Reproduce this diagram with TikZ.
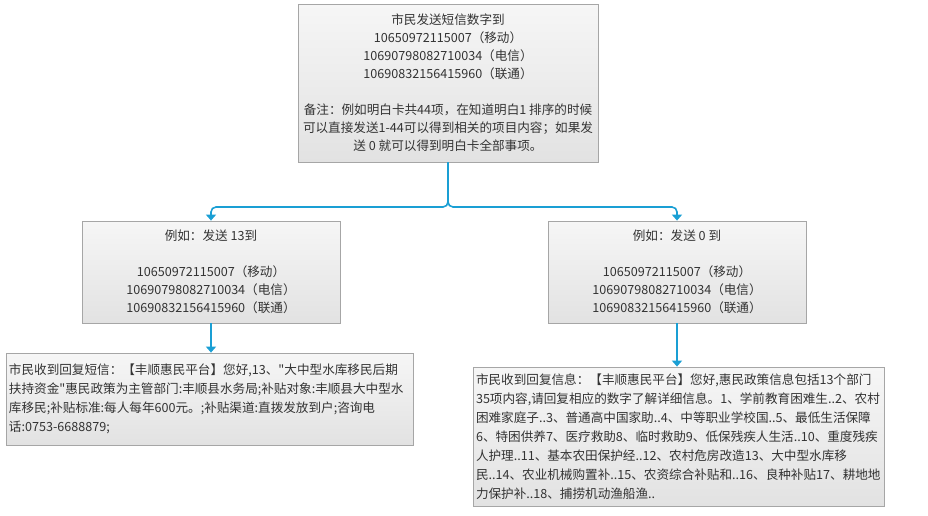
\documentclass[tikz,border=0pt]{standalone}
\usepackage{fontspec}
\newfontfamily\cjk{Noto Sans CJK SC}
\usetikzlibrary{arrows.meta}
\definecolor{linkblue}{HTML}{1A9FD4}
\definecolor{boxline}{HTML}{A6A6A6}
\definecolor{boxtop}{HTML}{F6F6F6}
\definecolor{boxbot}{HTML}{E2E2E2}
\tikzset{
    box/.style={draw=boxline, line width=0.8pt, top color=boxtop, bottom color=boxbot,
        inner sep=3pt, align=center, font=\cjk\fontsize{12.6}{18}\selectfont, text=black!80},
    infobox/.style={box, align=left, font=\cjk\fontsize{12.6}{19}\selectfont},
    link/.style={draw=linkblue, line width=1.6pt, rounded corners=5pt,
        -{Triangle[width=10pt,length=6pt]}}
}
\begin{document}
\begin{tikzpicture}[x=1pt, y=-1pt]
    \useasboundingbox (0,0) rectangle (928,515);
    % 短信入口
    \node[box, minimum width=300pt, minimum height=158pt] (send) at (448,83)
        {市民发送短信数字到\\
         10650972115007（移动）\\
         10690798082710034（电信）\\
         10690832156415960（联通）\\ ~ \\
         备注：例如明白卡共44项，在知道明白1 排序的时候\\
         可以直接发送1-44可以得到相关的项目内容；如果发\\
         送 0 就可以得到明白卡全部事项。};

    % 两个例子
    \node[box, minimum width=258pt, minimum height=102pt] (sendA) at (211,272)
        {例如：发送 13到\\ ~ \\
         10650972115007（移动）\\
         10690798082710034（电信）\\
         10690832156415960（联通）};
    \node[box, minimum width=258pt, minimum height=102pt] (sendB) at (677,272)
        {例如：发送 0 到\\ ~ \\
         10650972115007（移动）\\
         10690798082710034（电信）\\
         10690832156415960（联通）};

    % 回复内容
    \node[infobox, text width=401pt, minimum height=92pt] (replyA) at (209.5,399)
        {市民收到回复短信：【丰顺惠民平台】您好,13、"大中型水库移民后期\\
         扶持资金"惠民政策为主管部门:丰顺县水务局;补贴对象:丰顺县大中型水\\
         库移民;补贴标准:每人每年600元。;补贴渠道:直拨发放到户;咨询电\\
         话:0753-6688879;};
    \node[infobox, text width=405pt, minimum height=139pt] (replyB) at (678.5,436.5)
        {市民收到回复信息：【丰顺惠民平台】您好,惠民政策信息包括13个部门\\
         35项内容,请回复相应的数字了解详细信息。1、学前教育困难生..2、农村\\
         困难家庭子..3、普通高中国家助..4、中等职业学校国..5、最低生活保障\\
         6、特困供养7、医疗救助8、临时救助9、低保残疾人生活..10、重度残疾\\
         人护理..11、基本农田保护经..12、农村危房改造13、大中型水库移\\
         民..14、农业机械购置补..15、农资综合补贴和..16、良种补贴17、耕地地\\
         力保护补..18、捕捞机动渔船渔..};

    % 连线
    \coordinate (split) at (448,207);
    \draw[link] (send.south) -- (split) -| (sendA.north);
    \draw[link] (send.south) -- (split) -| (sendB.north);
    \draw[link] (sendA.south) -- (sendA.south |- replyA.north);
    \draw[link] (sendB.south) -- (sendB.south |- replyB.north);
\end{tikzpicture}
\end{document}
